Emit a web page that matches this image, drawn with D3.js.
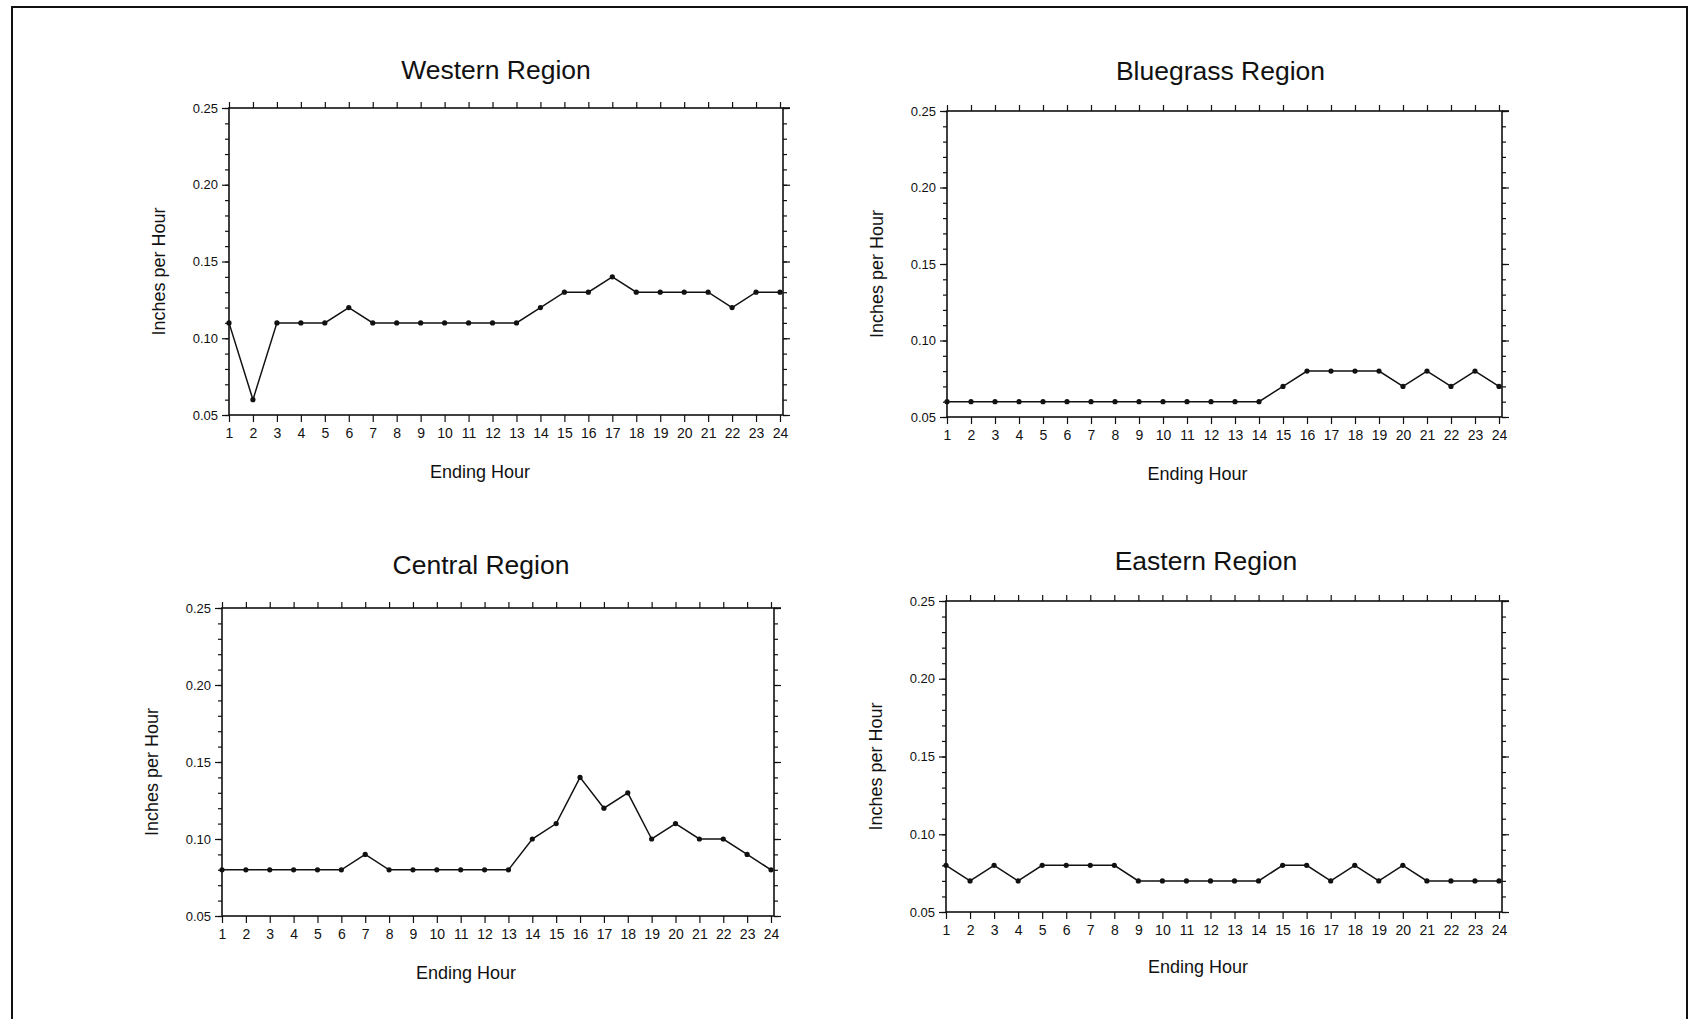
<!DOCTYPE html>
<html><head><meta charset="utf-8">
<script src="https://cdn.jsdelivr.net/npm/d3@7"></script>
<style>body{margin:0;background:#fff}svg{display:block}text{font-family:"Liberation Sans",Arial,sans-serif;fill:#111}</style>
</head><body>
<svg id="c" width="1692" height="1019"></svg>
<script>
const hours = d3.range(1, 25);
const hourLabels = hours.map(String);
const yTickValues = [0.05, 0.10, 0.15, 0.20, 0.25];
const yTickLabels = ["0.05", "0.10", "0.15", "0.20", "0.25"];
const titles = ["Western Region", "Bluegrass Region", "Central Region", "Eastern Region"];
const western   = [0.11,0.06,0.11,0.11,0.11,0.12,0.11,0.11,0.11,0.11,0.11,0.11,0.11,0.12,0.13,0.13,0.14,0.13,0.13,0.13,0.13,0.12,0.13,0.13];
const bluegrass = [0.06,0.06,0.06,0.06,0.06,0.06,0.06,0.06,0.06,0.06,0.06,0.06,0.06,0.06,0.07,0.08,0.08,0.08,0.08,0.07,0.08,0.07,0.08,0.07];
const central   = [0.08,0.08,0.08,0.08,0.08,0.08,0.09,0.08,0.08,0.08,0.08,0.08,0.08,0.10,0.11,0.14,0.12,0.13,0.10,0.11,0.10,0.10,0.09,0.08];
const eastern   = [0.08,0.07,0.08,0.07,0.08,0.08,0.08,0.08,0.07,0.07,0.07,0.07,0.07,0.07,0.08,0.08,0.07,0.08,0.07,0.08,0.07,0.07,0.07,0.07];
const seriesList = [western, bluegrass, central, eastern];

const panels = [
  {l:229, r:783, t:108, b:415, tdx:-10, tdy:-29, xdx:-26, xdy:63},
  {l:947, r:1502, t:111, b:417, tdx:-4, tdy:-31, xdx:-27, xdy:63},
  {l:222, r:774, t:608, b:916, tdx:-17, tdy:-34, xdx:-32, xdy:63},
  {l:946, r:1502, t:601, b:912, tdx:-18, tdy:-31, xdx:-26, xdy:61}
];

const svg = d3.select("#c");
svg.append("path").attr("d","M12,1019 L12,7 L1687,7 L1687,1019").attr("fill","none").attr("stroke","#111").attr("stroke-width",2);

panels.forEach((p, i) => {
  const g = svg.append("g");
  const x = d3.scaleLinear().domain([1, 24]).range([p.l, p.r - 3]);
  const y = d3.scaleLinear().domain([0.05, 0.25]).range([p.b, p.t]);
  const minor = d3.range(5, 26).map(v => v / 100);

  g.append("rect").attr("x", p.l).attr("y", p.t).attr("width", p.r - p.l).attr("height", p.b - p.t)
    .attr("fill","none").attr("stroke","#111").attr("stroke-width",1.6);
  g.append("line").attr("x1", p.r).attr("x2", p.r + 7).attr("y1", p.t).attr("y2", p.t).attr("stroke","#111").attr("stroke-width",1.6);

  const left = g.append("g").attr("transform", `translate(${p.l},0)`)
    .call(d3.axisLeft(y).tickValues(yTickValues).tickFormat((d,k) => yTickLabels[k]).tickSize(7).tickSizeOuter(0).tickPadding(4));
  left.select(".domain").remove();
  left.selectAll("text").attr("font-size", 13).style("font-family", '"Liberation Sans", Arial, sans-serif');
  g.append("g").attr("transform", `translate(${p.l},0)`)
    .call(d3.axisLeft(y).tickValues(minor).tickSize(4).tickFormat("")).select(".domain").remove();

  g.append("g").attr("transform", `translate(${p.r},0)`)
    .call(d3.axisRight(y).tickValues(yTickValues).tickSize(7).tickFormat("")).select(".domain").remove();
  g.append("g").attr("transform", `translate(${p.r},0)`)
    .call(d3.axisRight(y).tickValues(minor).tickSize(4).tickFormat("")).select(".domain").remove();

  const bottom = g.append("g").attr("transform", `translate(0,${p.b})`)
    .call(d3.axisBottom(x).tickValues(hours).tickFormat((d,k) => hourLabels[k]).tickSize(7).tickPadding(6));
  bottom.select(".domain").remove();
  bottom.selectAll("text").attr("font-size", 14).style("font-family", '"Liberation Sans", Arial, sans-serif');

  g.append("g").attr("transform", `translate(0,${p.t})`)
    .call(d3.axisTop(x).tickValues(hours).tickSize(6).tickFormat("")).select(".domain").remove();

  g.selectAll(".tick line").attr("stroke", "#111").attr("stroke-width", 1.2);

  g.append("text").attr("x", (p.l + p.r) / 2 + p.tdx).attr("y", p.t + p.tdy).attr("text-anchor","middle")
    .attr("font-size", 26.5).text(titles[i]);
  g.append("text").attr("x", (p.l + p.r) / 2 + p.xdx).attr("y", p.b + p.xdy).attr("text-anchor","middle")
    .attr("font-size", 18).text("Ending Hour");
  g.append("text").attr("transform", `translate(${p.l - 64},${(p.t + p.b) / 2 + 10}) rotate(-90)`)
    .attr("text-anchor","middle").attr("font-size", 18).text("Inches per Hour");

  const data = seriesList[i].map((v, k) => ({h: hours[k], v}));
  g.append("path").datum(data).attr("fill","none").attr("stroke","#111").attr("stroke-width",1.5)
    .attr("d", d3.line().x(d => x(d.h)).y(d => y(d.v)));
  g.selectAll("circle.pt").data(data).join("circle").attr("class","pt")
    .attr("cx", d => x(d.h)).attr("cy", d => y(d.v)).attr("r", 2.6).attr("fill","#111");
});
</script>
</body></html>
